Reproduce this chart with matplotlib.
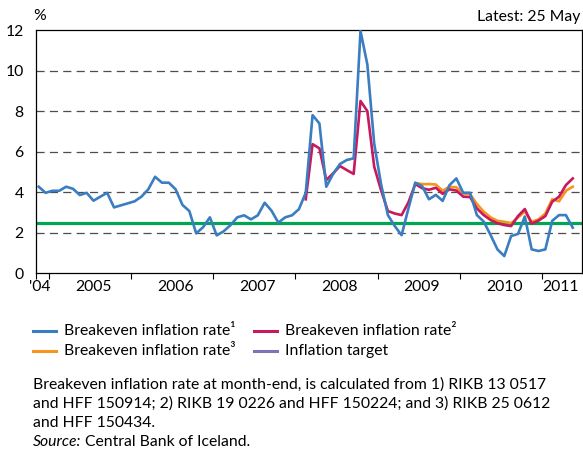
import numpy as np
import matplotlib
matplotlib.use("Agg")
import matplotlib.pyplot as plt
from matplotlib.lines import Line2D

plt.rcParams['font.family'] = ['Lato', 'DejaVu Sans']

# monthly values, first month is Nov 2004
start_year, start_month = 2004, 11
blue = [4.27, 3.97, 4.07, 4.07, 4.27, 4.17, 3.86, 3.97, 3.58, 3.78,
        3.97, 3.25, 3.35, 3.45, 3.55, 3.78, 4.14, 4.76, 4.47, 4.47,
        4.14, 3.37, 3.07, 1.97, 2.27, 2.76, 1.87, 2.07, 2.37, 2.76,
        2.86, 2.66, 2.86, 3.48, 3.09, 2.50, 2.76, 2.86, 3.16, 3.97,
        7.80, 7.39, 4.27, 4.90, 5.39, 5.59, 5.67, 11.95, 10.30, 6.40,
        4.40, 2.87, 2.33, 1.88, 3.20, 4.47, 4.30, 3.65, 3.87, 3.57,
        4.35, 4.68, 3.97, 3.97, 2.87, 2.55, 1.89, 1.18, 0.85, 1.84,
        1.94, 2.80, 1.18, 1.10, 1.18, 2.59, 2.87, 2.87, 2.25]
# starts Feb 2008
red_start = 39
red = [3.65, 6.37, 6.16, 4.60, 4.93, 5.29, 5.09, 4.90, 8.50, 8.00,
       5.26, 4.10, 3.07, 2.95, 2.87, 3.50, 4.40, 4.20, 4.12, 4.22,
       3.92, 4.14, 4.08, 3.78, 3.76, 3.20, 2.87, 2.63, 2.47, 2.38,
       2.33, 2.82, 3.17, 2.45, 2.60, 2.82, 3.53, 3.78, 4.35, 4.68]
# starts Jun 2009
orange_start = 55
orange = [4.45, 4.40, 4.40, 4.38, 4.07, 4.27, 4.24, 3.94, 3.90, 3.42,
          3.04, 2.76, 2.59, 2.54, 2.47, 2.75, 3.05, 2.54, 2.66, 2.95,
          3.65, 3.55, 4.07, 4.27]
target = 2.5

years = [2005, 2006, 2007, 2008, 2009, 2010, 2011]
year_labels = ["'04", '2005', '2006', '2007', '2008', '2009', '2010', '2011']
yticks = [0, 2, 4, 6, 8, 10, 12]

c_blue = '#3a7dc0'
c_red = '#c8185e'
c_orange = '#f7941d'
c_green = '#00a651'
c_purple = '#7f72b9'


def month_x(i0, n):
    i = np.arange(i0, i0 + n)
    return start_year + (start_month - 1 + i + 0.5) / 12.0


x0, x1 = 2004.842, 2011.484
fs = 11.3

fig = plt.figure(figsize=(5.83, 4.54), dpi=100)
ax = fig.add_axes([36/583, 1 - 273.3/454, (581.7-36)/583, (273.3-30)/454])

for v in yticks[1:-1]:
    ax.axhline(v, color='#4d4d4d', lw=0.9, ls=(0, (6.5, 4.2)), zorder=1)

ax.plot([x0, x1], [target, target], color=c_green, lw=2.3, zorder=2, solid_capstyle='butt')
ax.plot(month_x(orange_start, len(orange)), orange, color=c_orange, lw=1.9, zorder=3)
ax.plot(month_x(red_start, len(red)), red, color=c_red, lw=1.9, zorder=4)
ax.plot(month_x(0, len(blue)), blue, color=c_blue, lw=1.9, zorder=5)

ax.set_xlim(x0, x1)
ax.set_ylim(0, 12)
ax.set_yticks(yticks)
ax.tick_params(axis='y', length=0, pad=9, labelsize=11.3)
ax.set_xticks([x0] + years)
ax.set_xticklabels([])
ax.tick_params(axis='x', which='major', direction='out', length=4.3, width=0.8)
ax.set_xticks([2004.885] + [y + 0.54 for y in years[:-1]] + [2011.22], minor=True)
ax.set_xticklabels(year_labels, minor=True)
ax.tick_params(axis='x', which='minor', length=0, pad=5, labelsize=11.3)
for s in ax.spines.values():
    s.set_linewidth(0.9)

fig.text(40/583, 1 - 16/454, '%', ha='center', va='center', fontsize=fs)
fig.text(580/583, 1 - 17/454, 'Latest: 25 May', ha='right', va='center', fontsize=fs)

# legend
entries = [(33, 331, c_blue, 'Breakeven inflation rate\u00b9'),
           (254, 331, c_red, 'Breakeven inflation rate\u00b2'),
           (33, 351, c_orange, 'Breakeven inflation rate\u00b3'),
           (254, 351, c_purple, 'Inflation target')]
for px, py, col, lab in entries:
    yy = 1 - py/454
    fig.add_artist(Line2D([px/583, (px+23)/583], [yy, yy], color=col, lw=2.2,
                          transform=fig.transFigure))
    fig.text((px+31)/583, yy, lab, ha='left', va='center', fontsize=fs)

notes = ['Breakeven inflation rate at month-end, is calculated from 1) RIKB 13 0517',
         'and HFF 150914; 2) RIKB 19 0226 and HFF 150224; and 3) RIKB 25 0612',
         'and HFF 150434.']
for k, line in enumerate(notes):
    fig.text(33/583, 1 - (385 + 19*k)/454, line, ha='left', va='center', fontsize=fs)
src = fig.text(33/583, 1 - 442/454, 'Source:', ha='left', va='center', fontsize=fs, style='italic')
fig.canvas.draw()
bb = src.get_window_extent()
fig.text((bb.x1 + 4)/583, 1 - 442/454, 'Central Bank of Iceland.', ha='left', va='center', fontsize=fs)

fig.savefig('out.png', dpi=100)
